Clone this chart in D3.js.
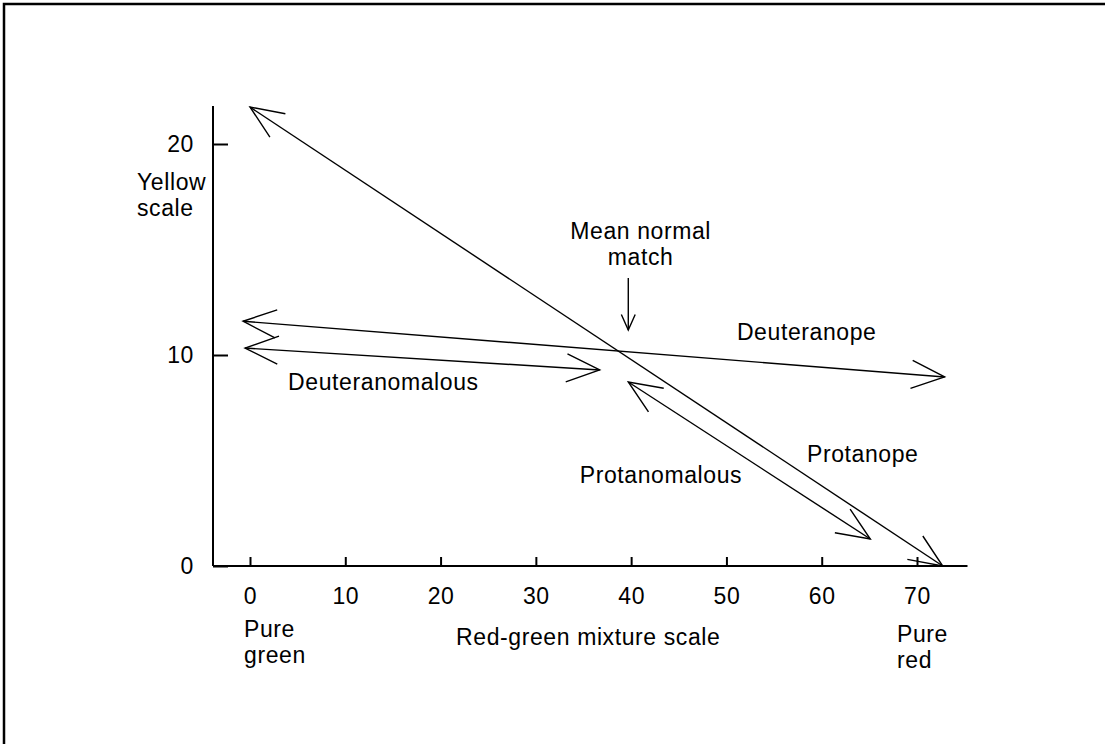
<!DOCTYPE html>
<html>
<head>
<meta charset="utf-8">
<script src="https://cdn.jsdelivr.net/npm/d3@7"></script>
<style>
  body { margin: 0; background: #fff; }
  text { font-family: "Liberation Sans", Arial, sans-serif; font-size: 23px; letter-spacing: 0.6px; fill: #000; }
</style>
</head>
<body>
<div id="chart"></div>
<script>
var width = 1105,
    height = 744,
    xTicks = [0, 10, 20, 30, 40, 50, 60, 70],
    yTicks = [0, 10, 20],
    // arrows: [start, end] in (mixture, yellow) units, heads on both ends
    protanope = [[0.0, 21.75], [72.7, 0.0]],
    deuteranope = [[-0.73, 11.6], [72.9, 8.96]],
    deuteranomalous = [[-0.52, 10.33], [36.7, 9.29]],
    protanomalous = [[39.7, 8.72], [65.1, 1.28]],
    meanMatch = [[39.7, 13.65], [39.7, 11.18]],
    // heavier stretch of the protanope line just below the match point (fraction of its length)
    protanopeBold = [0.54, 0.615],
    arrows = [protanope, deuteranope, deuteranomalous, protanomalous],
    notes = [
      { text: ['Mean normal', 'match'], x: 41.0, y: 15.5, anchor: 'middle' },
      { text: ['Deuteranope'], x: 51.1, y: 10.71, anchor: 'start' },
      { text: ['Deuteranomalous'], x: 4.0, y: 8.34, anchor: 'start' },
      { text: ['Protanomalous'], x: 34.6, y: 3.93, anchor: 'start' },
      { text: ['Protanope'], x: 58.45, y: 4.93, anchor: 'start' },
      { text: ['Pure', 'green'], x: -0.63, y: -3.36, anchor: 'start' },
      { text: ['Pure', 'red'], x: 67.9, y: -3.6, anchor: 'start' },
      { text: ['Red-green mixture scale'], x: 35.5, y: -3.74, anchor: 'middle' },
      { text: ['Yellow', 'scale'], x: -11.86, y: 17.82, anchor: 'start' }
    ],
    svg, x, y;

x = d3.scaleLinear().domain([0, 70]).range([250, 917]);
y = d3.scaleLinear().domain([0, 20]).range([566, 144]);

svg = d3.select('#chart').append('svg')
  .attr('width', width)
  .attr('height', height);

// frame
svg.append('path')
  .attr('d', 'M4,' + height + 'V4H' + width)
  .attr('fill', 'none')
  .attr('stroke', '#000')
  .attr('stroke-width', 2.5);

// axis lines, a bit longer than the tick range
svg.append('line')
  .attr('x1', 213).attr('x2', 213).attr('y1', y(21.8)).attr('y2', y(0))
  .attr('stroke', '#000').attr('stroke-width', 2);
svg.append('line')
  .attr('x1', 213).attr('x2', x(75.3)).attr('y1', y(0)).attr('y2', y(0))
  .attr('stroke', '#000').attr('stroke-width', 2);

var yAxis = svg.append('g')
  .attr('transform', 'translate(213,0)')
  .call(d3.axisLeft(y).tickValues(yTicks).tickSize(-15).tickPadding(19).tickFormat(d3.format('d')));

var xAxis = svg.append('g')
  .attr('transform', 'translate(0,' + y(0) + ')')
  .call(d3.axisBottom(x).tickValues(xTicks).tickSize(-9).tickPadding(22).tickFormat(d3.format('d')));

[xAxis, yAxis].forEach(function (g) {
  g.select('.domain').remove();
  g.selectAll('line').attr('stroke', '#000').attr('stroke-width', 2);
  g.selectAll('text').attr('font-family', null).attr('font-size', null);
});

function head(tip, from, len, spread) {
  var a = Math.atan2(from[1] - tip[1], from[0] - tip[0]);
  return [a - spread, a + spread].map(function (b) {
    return [tip[0] + len * Math.cos(b), tip[1] + len * Math.sin(b)];
  });
}

function drawArrow(pts, len, spread, bothEnds) {
  var p0 = [x(pts[0][0]), y(pts[0][1])],
      p1 = [x(pts[1][0]), y(pts[1][1])],
      g = svg.append('g')
        .attr('fill', 'none')
        .attr('stroke', '#000')
        .attr('stroke-width', 1.4);
  g.append('line')
    .attr('x1', p0[0]).attr('y1', p0[1])
    .attr('x2', p1[0]).attr('y2', p1[1]);
  [[p0, p1], [p1, p0]].forEach(function (pair, i) {
    if (i === 0 && !bothEnds) { return; }
    var b = head(pair[0], pair[1], len, spread);
    g.append('path')
      .attr('d', 'M' + b[0] + 'L' + pair[0] + 'L' + b[1]);
  });
}

arrows.forEach(function (a) { drawArrow(a, 36, 0.4, true); });
drawArrow(meanMatch, 17, 0.42, false);

var along = d3.interpolateArray(protanope[0], protanope[1]),
    b0 = along(protanopeBold[0]),
    b1 = along(protanopeBold[1]);
svg.append('line')
  .attr('x1', x(b0[0])).attr('y1', y(b0[1]))
  .attr('x2', x(b1[0])).attr('y2', y(b1[1]))
  .attr('stroke', '#000').attr('stroke-width', 2.6);

// labels
var labels = svg.selectAll('text.note')
  .data(notes)
  .enter()
  .append('text')
  .attr('class', 'note')
  .attr('text-anchor', function (d) { return d.anchor; })
  .attr('x', function (d) { return x(d.x); })
  .attr('y', function (d) { return y(d.y); });

labels.selectAll('tspan')
  .data(function (d) { return d.text.map(function (t) { return { t: t, x: x(d.x) }; }); })
  .enter()
  .append('tspan')
  .attr('x', function (d) { return d.x; })
  .attr('dy', function (d, i) { return i ? 26 : 0; })
  .text(function (d) { return d.t; });
</script>
</body>
</html>
